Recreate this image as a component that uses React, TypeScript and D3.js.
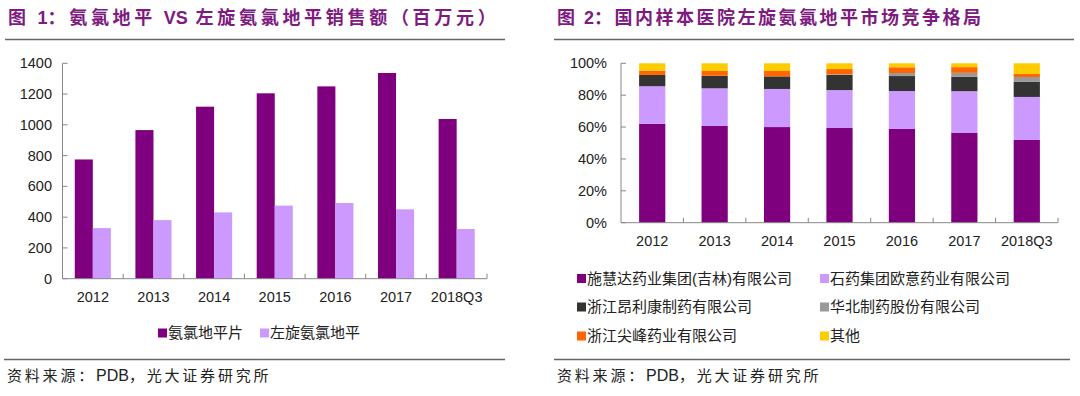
import React from 'react';
import * as d3 from 'd3';

// categories
const years = ['2012', '2013', '2014', '2015', '2016', '2017', '2018Q3'];

// figure 1: sales (million yuan)
const amlodipine = [775, 966, 1118, 1205, 1250, 1337, 1038];
const levamlodipine = [329, 381, 431, 475, 492, 451, 323];
const salesTicks = [0, 200, 400, 600, 800, 1000, 1200, 1400];
const salesSeries = ['氨氯地平片', '左旋氨氯地平'];

// figure 2: market share (%)
const companies = [
  '施慧达药业集团(吉林)有限公司',
  '石药集团欧意药业有限公司',
  '浙江昂利康制药有限公司',
  '华北制药股份有限公司',
  '浙江尖峰药业有限公司',
  '其他',
];
const shiHuiDa = [62.0, 60.7, 60.0, 59.4, 58.8, 56.5, 51.9];
const shiYao = [23.6, 23.6, 23.9, 23.8, 23.8, 26.0, 27.0];
const angLiKang = [7.1, 7.9, 7.9, 9.5, 9.4, 9.0, 9.6];
const huaBei = [0, 0, 0, 0.4, 1.9, 2.5, 2.9];
const jianFeng = [2.7, 3.0, 3.4, 3.3, 3.6, 3.6, 1.9];
const others = [4.6, 4.8, 4.8, 3.6, 2.5, 2.4, 6.7];
const shareTicks = [0, 20, 40, 60, 80, 100];

const salesColors = ['#7F007F', '#CC99FF'];
const shareColors = ['#7F007F', '#CC99FF', '#333333', '#999999', '#FF6600', '#FFCC00'];

const NUM_FONT = 'Liberation Sans, Arial, "Noto Sans CJK SC", sans-serif';
const CJK_FONT = '"Noto Sans CJK SC", sans-serif';
const AXIS = '#888888';
const TITLE = '#7E1A80';

const Header = ({ x, text, lineTo, spacing }: { x: number; text: string[]; lineTo: number; spacing: number }) => (
  <g>
    <text x={x} y={24} fill={TITLE} fontSize={18} fontWeight="bold" fontFamily={CJK_FONT} letterSpacing={spacing}>
      <tspan>{text[0]}</tspan>
      <tspan fontFamily={NUM_FONT} letterSpacing={0}>{text[1]}</tspan>
      <tspan>{text[2]}</tspan>
      {text[3] ? <tspan fontFamily={NUM_FONT} letterSpacing={0}>{text[3]}</tspan> : null}
      {text[4] ? <tspan>{text[4]}</tspan> : null}
    </text>
    <line x1={x - 3} x2={lineTo} y1={39.5} y2={39.5} stroke="#666" strokeWidth={1.5} />
  </g>
);

const Footer = ({ x, lineTo }: { x: number; lineTo: number }) => (
  <g>
    <line x1={x - 3} x2={lineTo} y1={359.5} y2={359.5} stroke="#666" strokeWidth={1.5} />
    <text x={x} y={381} fill="#222" fontSize={15} fontFamily={CJK_FONT} letterSpacing={2.8}>
      <tspan>资料来源：</tspan>
      <tspan fontFamily={NUM_FONT} fontSize={16} letterSpacing={0}>PDB</tspan>
      <tspan>，光大证券研究所</tspan>
    </text>
  </g>
);

const SalesChart = () => {
  const left = 62.5;
  const right = 487;
  const top = 63.3;
  const bottom = 278.7;
  const x = d3.scaleBand<string>().domain(years).range([left, right]).padding(0);
  const inner = d3.scaleBand<string>().domain(salesSeries).range([0, x.bandwidth()]).paddingInner(0).paddingOuter(0.68);
  const y = d3.scaleLinear().domain([0, 1400]).range([bottom, top]);
  const values = [amlodipine, levamlodipine];

  return (
    <g>
      {years.map((yr, i) => (
        <g key={yr}>
          {salesSeries.map((s, j) => (
            <rect
              key={s}
              x={(x(yr) as number) + (inner(s) as number)}
              y={y(values[j][i])}
              width={inner.bandwidth()}
              height={bottom - y(values[j][i])}
              fill={salesColors[j]}
            />
          ))}
        </g>
      ))}
      {/* y axis */}
      <line x1={left} x2={left} y1={top} y2={bottom} stroke={AXIS} />
      {salesTicks.map((t) => (
        <g key={t}>
          <line x1={left} x2={left + 5} y1={y(t)} y2={y(t)} stroke={AXIS} />
          <text x={52} y={y(t)} dy="0.35em" textAnchor="end" fontSize={14.5} fontFamily={NUM_FONT} fill="#222">
            {t}
          </text>
        </g>
      ))}
      {/* x axis */}
      <line x1={left} x2={right} y1={bottom} y2={bottom} stroke={AXIS} />
      {years.map((yr) => (
        <g key={yr}>
          <line x1={(x(yr) as number) + x.bandwidth()} x2={(x(yr) as number) + x.bandwidth()} y1={bottom} y2={bottom - 5} stroke={AXIS} />
          <text x={(x(yr) as number) + x.bandwidth() / 2} y={297} dy="0.35em" textAnchor="middle" fontSize={14.5} fontFamily={NUM_FONT} fill="#222">
            {yr}
          </text>
        </g>
      ))}
      {/* legend */}
      {salesSeries.map((s, j) => {
        const lx = [158, 260][j];
        return (
          <g key={s}>
            <rect x={lx} y={328.5} width={9} height={9} fill={salesColors[j]} />
            <text x={lx + 10} y={333} dy="0.35em" fontSize={15} fontFamily={CJK_FONT} fill="#222">
              {s}
            </text>
          </g>
        );
      })}
    </g>
  );
};

const ShareChart = () => {
  const left = 621;
  const right = 1058;
  const top = 63.3;
  const bottom = 222.7;
  const x = d3.scaleBand<string>().domain(years).range([left, right]).paddingInner(0.58).paddingOuter(0.29);
  const step = x.step();
  const gap = step - x.bandwidth();
  const y = d3.scaleLinear().domain([0, 100]).range([bottom, top]);
  const series = [shiHuiDa, shiYao, angLiKang, huaBei, jianFeng, others];
  const rows = years.map((yr, i) => {
    const r: Record<string, number | string> = { year: yr };
    companies.forEach((c, k) => (r[c] = series[k][i]));
    return r;
  });
  const stacked = d3.stack<Record<string, number | string>>().keys(companies)(rows);

  return (
    <g>
      {stacked.map((layer, k) => (
        <g key={layer.key} fill={shareColors[k]}>
          {layer.map((d, i) => (
            <rect
              key={years[i]}
              x={x(years[i]) as number}
              y={y(d[1])}
              width={x.bandwidth()}
              height={Math.max(0, y(d[0]) - y(d[1]))}
            />
          ))}
        </g>
      ))}
      <line x1={left} x2={left} y1={top} y2={bottom} stroke={AXIS} />
      {shareTicks.map((t) => (
        <g key={t}>
          <line x1={left} x2={left + 5} y1={y(t)} y2={y(t)} stroke={AXIS} />
          <text x={607} y={y(t)} dy="0.35em" textAnchor="end" fontSize={14.5} fontFamily={NUM_FONT} fill="#222">
            {t}%
          </text>
        </g>
      ))}
      <line x1={left} x2={right} y1={bottom} y2={bottom} stroke={AXIS} />
      {years.map((yr) => {
        const bx = (x(yr) as number) + x.bandwidth() + gap / 2;
        return (
          <g key={yr}>
            <line x1={bx} x2={bx} y1={bottom} y2={bottom - 5} stroke={AXIS} />
            <text x={(x(yr) as number) + x.bandwidth() / 2} y={241} dy="0.35em" textAnchor="middle" fontSize={14.5} fontFamily={NUM_FONT} fill="#222">
              {yr}
            </text>
          </g>
        );
      })}
      {companies.map((c, k) => {
        const lx = k % 2 === 0 ? 577 : 820;
        const ly = [278.5, 307, 336][Math.floor(k / 2)];
        return (
          <g key={c}>
            <rect x={lx} y={ly - 4.5} width={9} height={9} fill={shareColors[k]} />
            <text x={lx + 10} y={ly} dy="0.35em" fontSize={15} fontFamily={NUM_FONT} fill="#222">
              {c}
            </text>
          </g>
        );
      })}
    </g>
  );
};

export default function App() {
  return (
    <div style={{ position: 'absolute', left: 0, top: 0 }}>
      <svg width={1080} height={396} style={{ display: 'block', background: '#fff' }}>
        <Header x={8} spacing={3.7} text={['图 ', '1', '：氨氯地平 ', 'VS', ' 左旋氨氯地平销售额（百万元）']} lineTo={505} />
        <Header x={557} spacing={2.5} text={['图 ', '2', '：国内样本医院左旋氨氯地平市场竞争格局']} lineTo={1074} />
        <SalesChart />
        <ShareChart />
        <Footer x={7} lineTo={505} />
        <Footer x={557} lineTo={1070} />
      </svg>
    </div>
  );
}
